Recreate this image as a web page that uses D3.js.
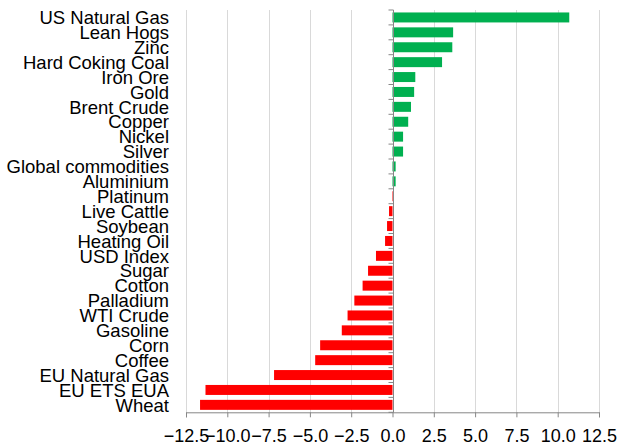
<!DOCTYPE html>
<html>
<head>
<meta charset="utf-8">
<script src="https://cdn.jsdelivr.net/npm/d3@7"></script>
<style>
  html, body { margin: 0; padding: 0; background: #fff; }
  svg text { font-family: "Liberation Sans", Arial, sans-serif; fill: #000; }
</style>
</head>
<body>
<svg id="chart" width="617" height="448"></svg>
<script>
// Commodity performance, % change
const categories = [
  "US Natural Gas", "Lean Hogs", "Zinc", "Hard Coking Coal", "Iron Ore", "Gold",
  "Brent Crude", "Copper", "Nickel", "Silver", "Global commodities", "Aluminium",
  "Platinum", "Live Cattle", "Soybean", "Heating Oil", "USD Index", "Sugar",
  "Cotton", "Palladium", "WTI Crude", "Gasoline", "Corn", "Coffee",
  "EU Natural Gas", "EU ETS EUA", "Wheat"
];
const values = [
  10.7, 3.67, 3.62, 3.0, 1.38, 1.31,
  1.12, 0.95, 0.64, 0.64, 0.19, 0.19,
  -0.03, -0.21, -0.33, -0.45, -1.0, -1.48,
  -1.81, -2.31, -2.72, -3.07, -4.38, -4.68,
  -7.17, -11.32, -11.65
];
const xTicks = [-12.5, -10, -7.5, -5, -2.5, 0, 2.5, 5, 7.5, 10, 12.5];

const data = categories.map((c, i) => ({ name: c, value: values[i] }));

const width = 617, height = 448;
const margin = { top: 10, right: 18, bottom: 35.7, left: 186 };
const svg = d3.select("#chart");

const x = d3.scaleLinear().domain([-12.5, 12.5]).range([margin.left, width - margin.right]);
const y = d3.scaleBand().domain(categories)
  .range([margin.top, height - margin.bottom])
  .paddingInner(0.33).paddingOuter(0.165);

const plotTop = margin.top, plotBottom = height - margin.bottom;
const axisGray = "#878787";

// vertical gridlines
svg.append("g")
  .selectAll("line")
  .data(xTicks.filter(t => t !== 0))
  .join("line")
  .attr("x1", d => Math.round(x(d)) + 0.5).attr("x2", d => Math.round(x(d)) + 0.5)
  .attr("y1", plotTop).attr("y2", plotBottom)
  .attr("stroke", "#d9d9d9").attr("stroke-width", 1);

// bars
svg.append("g")
  .selectAll("rect")
  .data(data)
  .join("rect")
  .attr("x", d => x(Math.min(0, d.value)))
  .attr("width", d => Math.abs(x(d.value) - x(0)))
  .attr("y", d => y(d.name))
  .attr("height", y.bandwidth())
  .attr("fill", d => d.value >= 0 ? "#00b050" : "#ff0000");

// category axis at zero, tick marks between categories
const step = y.step();
const boundaries = d3.range(categories.length + 1).map(i => plotTop + i * step);
const x0 = Math.round(x(0)) + 0.5;
const zeroAxis = svg.append("g");
zeroAxis.append("line")
  .attr("x1", x0).attr("x2", x0)
  .attr("y1", plotTop).attr("y2", plotBottom)
  .attr("stroke", axisGray).attr("stroke-width", 1);
zeroAxis.selectAll("line.tk")
  .data(boundaries)
  .join("line")
  .attr("class", "tk")
  .attr("x1", x0 - 5).attr("x2", x0)
  .attr("y1", d => d).attr("y2", d => d)
  .attr("stroke", axisGray).attr("stroke-width", 1);

// category labels
svg.append("g")
  .selectAll("text")
  .data(data)
  .join("text")
  .attr("x", 169)
  .attr("y", d => y(d.name) + y.bandwidth() / 2)
  .attr("dy", "0.36em")
  .attr("text-anchor", "end")
  .attr("font-size", "18.5px")
  .text(d => d.name);

// value axis
const xAxis = d3.axisBottom(x)
  .tickValues(xTicks)
  .tickFormat(d3.format(".1f"))
  .tickSize(5)
  .tickPadding(11.6);
const gx = svg.append("g")
  .attr("transform", `translate(0,${plotBottom})`)
  .call(xAxis);
gx.select(".domain").attr("stroke", axisGray);
gx.selectAll(".tick line").attr("stroke", axisGray);
gx.selectAll(".tick text")
  .attr("font-size", "18px")
  .attr("font-family", "Liberation Sans, Arial, sans-serif")
  .attr("fill", "#000");
</script>
</body>
</html>
